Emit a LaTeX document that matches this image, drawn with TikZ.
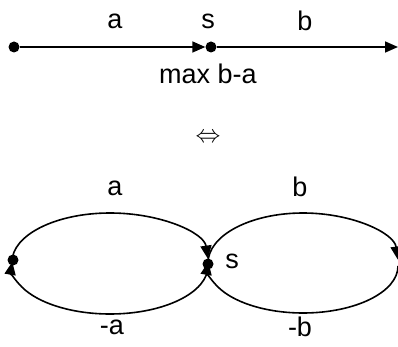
\documentclass[tikz,border=0pt]{standalone}
\usepackage{fontspec}
\setmainfont{Liberation Sans}
\usetikzlibrary{arrows.meta}
\begin{document}
\begin{tikzpicture}[x=1pt,y=-1pt,
  lbl/.style={font=\fontsize{27}{30}\selectfont, inner sep=0pt},
  dot/.style={circle, fill=black, inner sep=0pt, minimum size=11pt},
  edge/.style={line width=1.6pt, -{Triangle[length=13pt,width=11pt]}}]
\useasboundingbox (0,0) rectangle (398,347);
% top line
\node[dot] (A) at (14,47) {};
\node[dot] (S) at (211,47) {};
\coordinate (E) at (398,47);
\draw[edge] (A) -- (S.west);
\draw[edge] (S) -- (E);
\node[lbl] (la) at (115,21) {a};
\node[lbl] (ls) at (208,21) {s};
\node[lbl] (lb) at (305,21) {b};
\node[lbl] (lm) at (208,74) {max b-a};
% equivalence
\node[font=\fontsize{27}{30}\selectfont] (eq) at (208,138) {$\Leftrightarrow$};
% bottom loops
\node[dot] (L) at (13,260) {};
\node[dot] (M) at (208,264) {};
\coordinate (Lt) at (12,262);
\coordinate (Mb) at (208,266);
\coordinate (Mt) at (208,263);
\coordinate (Rb) at (398,266);
\draw[edge] (Lt) arc[start angle=180,end angle=356,x radius=98,y radius=49];
\draw[edge] (Mb) arc[start angle=0,end angle=185,x radius=98,y radius=48];
\draw[edge] (Mt) arc[start angle=180,end angle=356,x radius=95,y radius=50];
\draw[edge] (Rb) arc[start angle=0,end angle=185,x radius=95,y radius=47];
\node[lbl] (la2) at (115,188) {a};
\node[lbl] (lna) at (112,327) {-a};
\node[lbl] (lb2) at (300,187) {b};
\node[lbl] (lnb) at (300,327) {-b};
\node[lbl] (ls2) at (232,261) {s};
\end{tikzpicture}
\end{document}
